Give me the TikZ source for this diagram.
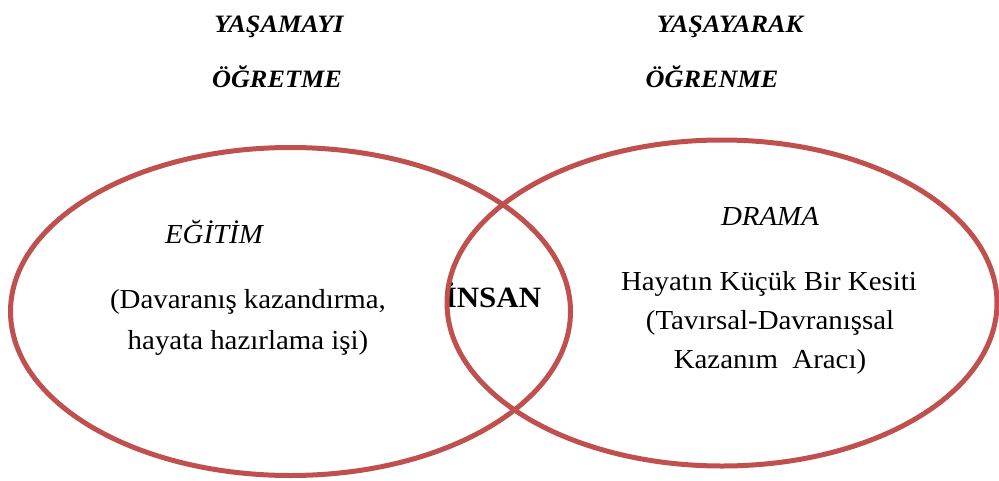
\documentclass[tikz,border=0pt]{standalone}
\usepackage{fontspec}
\setmainfont{Liberation Serif}[FakeStretch=1.05]
\definecolor{vennred}{HTML}{C0504D}
\tikzset{
  title/.style={anchor=base, inner sep=0pt, font=\fontsize{25}{30}\selectfont\bfseries\itshape},
  label/.style={anchor=base, inner sep=0pt, font=\fontsize{27.5}{33}\selectfont\itshape},
  body/.style={anchor=base, inner sep=0pt, font=\fontsize{27.5}{33}\selectfont},
  core/.style={anchor=base, inner sep=0pt, font=\fontsize{29.5}{35}\selectfont\bfseries},
  ring/.style={draw=vennred, line width=5pt}
}
\begin{document}
\begin{tikzpicture}[x=1pt,y=-1pt]
\useasboundingbox (0,0) rectangle (999,480);
\node[title] (t1) at (279,32) {YAŞAMAYI};
\node[title] (t2) at (277,87) {ÖĞRETME};
\node[title] (t3) at (730,32) {YAŞAYARAK};
\node[title] (t4) at (712,87) {ÖĞRENME};
\node[label] (egitim) at (214,243) {EĞİTİM};
\node[body] (l1) at (248,308) {(Davaranış kazandırma,};
\node[body] (l2) at (248,349) {hayata hazırlama işi)};
\node[core] (insan) at (493,307) {İNSAN};
\node[label] (drama) at (770,225) {DRAMA};
\node[body] (r1) at (769,290) {Hayatın Küçük Bir Kesiti};
\node[body] (r2) at (770,329) {(Tavırsal-Davranışsal};
\node[body] (r3) at (770,368) {Kazanım\ \ Aracı)};
\draw[ring] (290.5,311.5) ellipse [x radius=280, y radius=164];
\draw[ring] (722,303) ellipse [x radius=275, y radius=163];
\end{tikzpicture}
\end{document}
